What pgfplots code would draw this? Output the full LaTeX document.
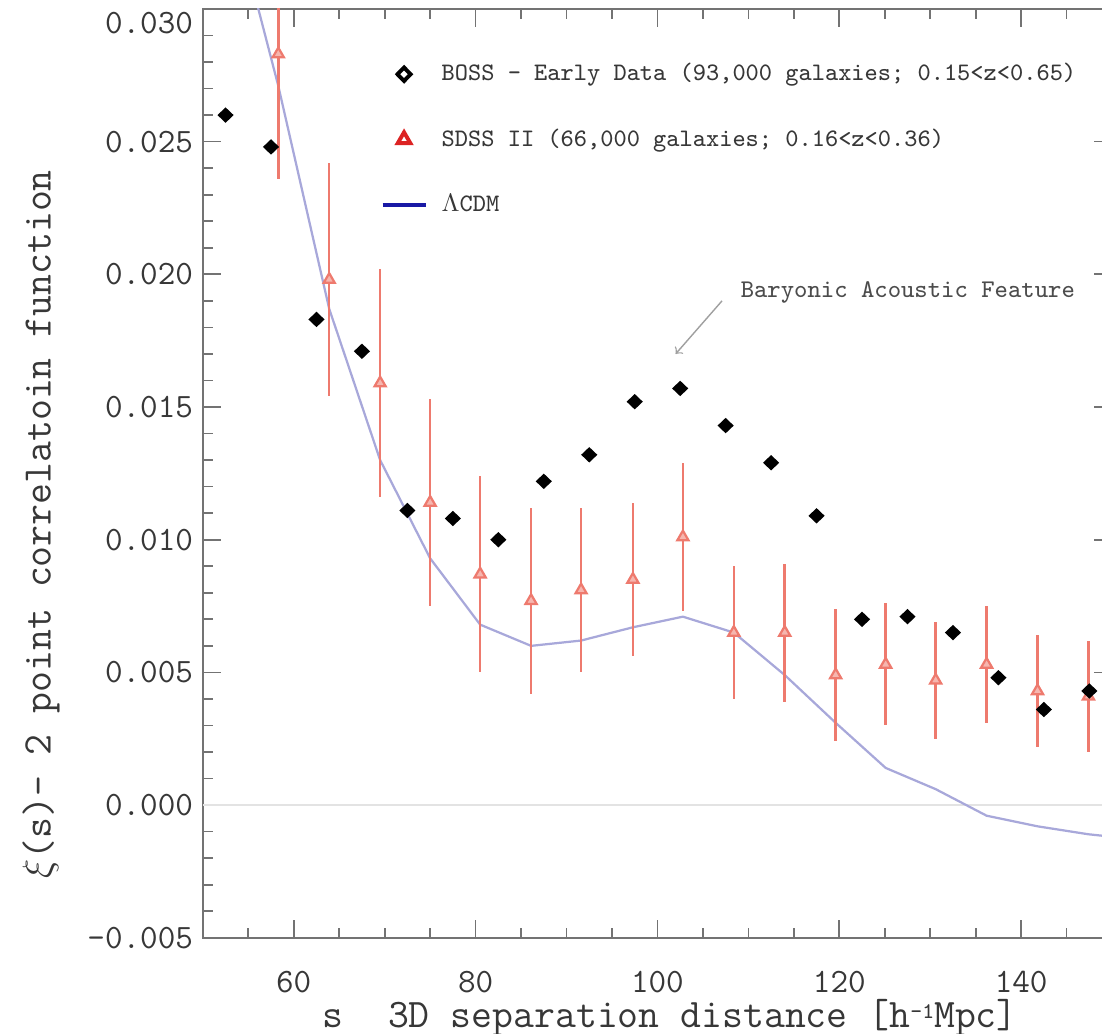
\documentclass[border=0pt]{standalone}
\usepackage{fontspec}
\setmainfont{Latin Modern Roman}
\setmonofont{Latin Modern Mono}
\usepackage{pgfplots}
\pgfplotsset{compat=1.18}
\usepackage{pgfplotstable}
\definecolor{salmon}{RGB}{238,122,110}
\definecolor{lcdmc}{RGB}{168,168,218}
\definecolor{axgray}{RGB}{115,115,115}
\definecolor{txtgray}{RGB}{55,55,55}
\definecolor{leglcdm}{RGB}{25,25,165}
\definecolor{legred}{RGB}{220,35,35}

\pgfplotstableread{
s xi
52.5 0.0260
57.5 0.0248
62.5 0.0183
67.5 0.0171
72.5 0.0111
77.5 0.0108
82.5 0.0100
87.5 0.0122
92.5 0.0132
97.5 0.0152
102.5 0.0157
107.5 0.0143
112.5 0.0129
117.5 0.0109
122.5 0.0070
127.5 0.0071
132.5 0.0065
137.5 0.0048
142.5 0.0036
147.5 0.0043
}\boss

\pgfplotstableread{
s xi err
58.3 0.0283 0.0047
63.9 0.0198 0.0044
69.5 0.0159 0.0043
75.0 0.0114 0.0039
80.5 0.0087 0.0037
86.1 0.0077 0.0035
91.6 0.0081 0.0031
97.3 0.0085 0.0029
102.8 0.0101 0.0028
108.4 0.0065 0.0025
114.0 0.0065 0.0026
119.6 0.0049 0.0025
125.1 0.0053 0.0023
130.6 0.0047 0.0022
136.2 0.0053 0.0022
141.8 0.0043 0.0021
147.4 0.0041 0.0021
}\sdss

\pgfplotstableread{
s xi
52.7 0.0345
58.3 0.0271
63.9 0.0187
69.5 0.0130
75.0 0.0093
80.5 0.0068
86.1 0.0060
91.6 0.0062
97.3 0.0067
102.8 0.0071
108.4 0.0065
114.0 0.0049
119.6 0.0031
125.1 0.0014
130.6 0.0006
136.2 -0.0004
141.8 -0.0008
147.4 -0.0011
153.0 -0.0013
}\lcdm

\begin{document}
\begin{tikzpicture}
\begin{axis}[
  at={(0,0)}, anchor=south west,
  scale only axis, width=325pt, height=332pt,
  xmin=50, xmax=150, ymin=-0.005, ymax=0.030,
  xtick={60,80,100,120,140},
  xticklabels={60,80,100,120,140},
  minor xtick={50,55,...,150},
  ytick={-0.005,0,0.005,0.010,0.015,0.020,0.025},
  yticklabels={–0.005,0.000,0.005,0.010,0.015,0.020,0.025},
  extra y ticks={0.030},
  extra y tick labels={0.030},
  extra y tick style={yticklabel style={yshift=-5pt}},
  minor ytick={-0.004,-0.003,-0.002,-0.001,0.001,0.002,0.003,0.004,0.006,0.007,0.008,0.009,0.011,0.012,0.013,0.014,0.016,0.017,0.018,0.019,0.021,0.022,0.023,0.024,0.026,0.027,0.028,0.029},
  scaled y ticks=false,
  tick align=inside,
  major tick length=6.5pt, minor tick length=3.5pt,
  axis line style={axgray, line width=0.8pt},
  every tick/.style={axgray, line width=0.6pt},
  tick label style={font=\ttfamily\fontsize{12.2}{14}\selectfont, text=txtgray},
  xticklabel style={inner sep=0pt, yshift=-11.7pt},
  every axis y label/.style={at={(axis description cs:-0.178,0.445)}, rotate=90, anchor=center},
  every axis x label/.style={at={(axis description cs:0.514,-0.0865)}, anchor=center, inner sep=0pt},
  label style={font=\ttfamily\fontsize{14.5}{16}\selectfont, text=txtgray},
  xlabel={s\hspace{1.1em}3D separation distance [h\raisebox{0.55ex}{\fontsize{8}{8}\selectfont -1}Mpc]},
  ylabel={$\xi$(s)– 2 point correlatoin function},
  legend style={draw=none, fill=none, at={(rel axis cs:0.195,0.948)}, anchor=north west,
    font=\ttfamily\fontsize{9}{10}\selectfont, text=txtgray, row sep=11.6pt, column sep=3.1pt, inner sep=0pt},
  legend cell align=left,
  legend image code/.code={\draw[mark repeat=2,mark phase=2,#1] plot coordinates {(0pt,0pt) (7.7pt,0pt) (15.4pt,0pt)};},
]
\addlegendimage{only marks, mark=diamond, mark size=2.4pt, mark options={draw=black, line width=1.4pt, xscale=1.3}}
\addlegendentry{BOSS - Early Data (93,000 galaxies; 0.15<z<0.65)}
\addlegendimage{only marks, mark=triangle, mark size=2.6pt, mark options={draw=legred, line width=1.4pt}}
\addlegendentry{SDSS II (66,000 galaxies; 0.16<z<0.36)}
\addlegendimage{leglcdm, line width=1.3pt}
\addlegendentry{$\Lambda$CDM}

\addplot[gray!22, line width=0.6pt, forget plot] coordinates {(50,0) (150,0)};
\addplot[lcdmc, line width=0.8pt, forget plot] table[x=s,y=xi]{\lcdm};
\addplot[forget plot, only marks, mark=triangle*, mark size=2.3pt, salmon,
  mark options={draw=salmon, fill=salmon!55!white, line width=0.8pt},
  error bars/.cd, y dir=both, y explicit, error mark=none,
  error bar style={salmon, line width=0.9pt}]
  table[x=s, y=xi, y error=err]{\sdss};
\addplot[forget plot, only marks, mark=diamond*, mark size=2.2pt,
  mark options={fill=black, draw=black, line width=0.8pt, xscale=1.4}]
  table[x=s,y=xi]{\boss};

\draw[->, gray!75, line width=0.5pt] (axis cs:107.1,0.0190) -- (axis cs:102.0,0.0170);
\node[anchor=west, inner sep=0pt, font=\ttfamily\fontsize{9.1}{11}\selectfont, text=black!70] at (axis cs:109.1,0.0193) {Baryonic Acoustic Feature};
\end{axis}
\pgfresetboundingbox
\path[use as bounding box] (-72.5pt,-34.3pt) rectangle (321.4pt,335.2pt);
\end{tikzpicture}
\end{document}
